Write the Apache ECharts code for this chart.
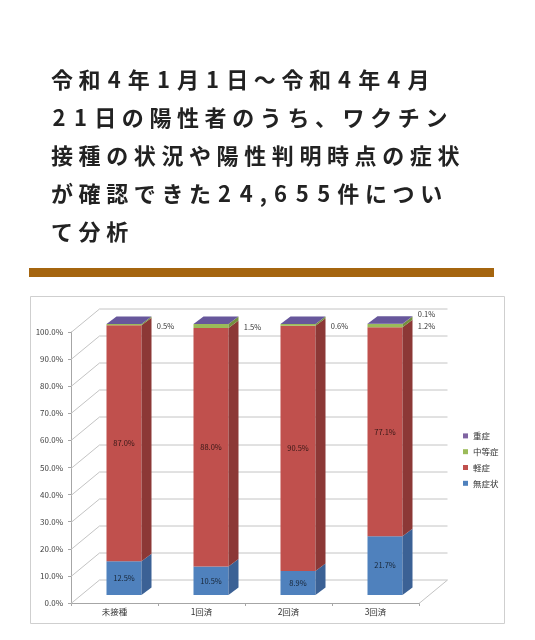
<!DOCTYPE html>
<html><head><meta charset="utf-8">
<script src="https://cdn.jsdelivr.net/npm/echarts@6.0.0/dist/echarts.min.js"></script>
<style>
html,body{margin:0;padding:0;background:#fff;}
#wrap{position:relative;width:535px;height:640px;overflow:hidden;}
#chart{position:absolute;left:0;top:0;width:535px;height:640px;}
#title{position:absolute;left:51px;top:58.5px;font-family:"Noto Sans CJK JP";font-size:22px;line-height:38.2px;letter-spacing:5.6px;font-weight:700;color:#222;white-space:nowrap;}
#title .d{padding:0 1.5px;}
</style></head>
<body>
<div id="wrap"><div id="chart"></div><div id="title"></div></div>
<script>
// ---- data ----
const titleLines = ['令和4年1月1日～令和4年4月', '21日の陽性者のうち、ワクチン', '接種の状況や陽性判明時点の症状', 'が確認できた24,655件につい', 'て分析'];
const categories = ['未接種', '1回済', '2回済', '3回済'];
const seriesNames = ['無症状', '軽症', '中等症', '重症'];
const asymptomatic = [12.5, 10.5, 8.9, 21.7];
const mild = [87.0, 88.0, 90.5, 77.1];
const moderate = [0.5, 1.5, 0.6, 1.2];
const severe = [0.0, 0.0, 0.0, 0.1];
const yTicks = [0, 10, 20, 30, 40, 50, 60, 70, 80, 90, 100];
const legendOrder = ['重症', '中等症', '軽症', '無症状'];

// ---- styles ----
const FONT = '"Noto Sans CJK JP"';
const frontColors = ['#4f81bd', '#c0504d', '#9bbb59', '#8064a2'];
const sideColors = ['#3b6195', '#8c3836', '#74903f', '#5e4a7d'];
const topColor = '#67579b';
const WALL_DX = 28.5, WALL_DY = -23.5;
const BAR_DX = 9.5, BAR_DY = -8;
const SIDE_DX = 10, SIDE_DY = -7.5;
const BAR_RATIO = 35 / 87;

document.getElementById('title').innerHTML = titleLines
  .map(l => l.replace(/[0-9]/g, d => '<span class="d">' + d + '</span>'))
  .join('<br>');

const seriesValues = [asymptomatic, mild, moderate, severe];
const bases = seriesValues.map((vals, si) =>
  vals.map((v, ci) => seriesValues.slice(0, si).reduce((s, arr) => s + arr[ci], 0)));

function fmt(v) { return v.toFixed(1) + '%'; }

function barSeries(si) {
  const last = seriesValues.length - 1;
  return {
    type: 'custom',
    name: seriesNames[si],
    z: 3 + si,
    itemStyle: { color: frontColors[si] },
    encode: { x: 0, y: [1, 2] },
    data: seriesValues[si].map((v, ci) => [ci, bases[si][ci], v]),
    renderItem: function (params, api) {
      const ci = api.value(0), base = api.value(1), val = api.value(2);
      const pb = api.coord([ci, base]);
      const pt = api.coord([ci, base + val]);
      const bw = api.size([1, 0])[0] * BAR_RATIO;
      const x0 = pb[0] + BAR_DX - bw / 2, x1 = x0 + bw;
      const yb = pb[1] + BAR_DY, yt = pt[1] + BAR_DY;
      const children = [];
      if (yb - yt > 0.01) {
        children.push({ type: 'rect', shape: { x: x0, y: yt, width: bw, height: yb - yt }, style: { fill: frontColors[si] } });
        children.push({ type: 'polygon', shape: { points: [[x1, yb], [x1 + SIDE_DX, yb + SIDE_DY], [x1 + SIDE_DX, yt + SIDE_DY], [x1, yt]] }, style: { fill: sideColors[si] } });
      }
      if (si === last) {
        children.push({ type: 'polygon', shape: { points: [[x0, yt], [x1, yt], [x1 + SIDE_DX, yt + SIDE_DY], [x0 + SIDE_DX, yt + SIDE_DY]] }, style: { fill: topColor } });
      }
      let lx, ly, fill = '#333';
      if (si <= 1) { lx = (x0 + x1) / 2; ly = (yb + yt) / 2; fill = 'rgba(0,0,0,0.72)'; }
      else if (si === 2) { lx = x1 + 24; ly = (yb + yt) / 2 + 1; }
      else { lx = x1 + 24; ly = yt - 10; }
      if (val > 0) {
        children.push({ type: 'text', z2: 10, style: { text: fmt(val), x: lx, y: ly, fill: fill, fontSize: 7.5, fontFamily: FONT, align: 'center', verticalAlign: 'middle' } });
      }
      return { type: 'group', children: children };
    }
  };
}

const wallSeries = {
  type: 'custom',
  name: 'walls',
  silent: true,
  z: 1,
  encode: { x: 0, y: 1 },
  data: yTicks.map(v => [0, v]),
  renderItem: function (params, api) {
    const v = api.value(1);
    const p = api.coord([0, v]);
    const cs = params.coordSys;
    const L = cs.x, R = cs.x + cs.width, y = Math.round(p[1]) + 0.5;
    const st = { stroke: '#c4c4c4', lineWidth: 1 };
    const children = [
      { type: 'line', shape: { x1: L, y1: y, x2: L + WALL_DX, y2: y + WALL_DY }, style: st },
      { type: 'line', shape: { x1: L + WALL_DX, y1: y + WALL_DY, x2: R + WALL_DX, y2: y + WALL_DY }, style: st }
    ];
    if (v === yTicks[0]) {
      children.push({ type: 'line', shape: { x1: R, y1: y, x2: R + WALL_DX, y2: y + WALL_DY }, style: st });
    }
    return { type: 'group', children: children };
  }
};

const chart = echarts.init(document.getElementById('chart'), null, { renderer: 'canvas' });
chart.setOption({
  animation: false,
  backgroundColor: 'transparent',
  graphic: [
    { type: 'rect', z: 0, shape: { x: 29, y: 268, width: 465, height: 9 }, style: { fill: '#a5650f' } },
    { type: 'rect', z: 0, shape: { x: 30.5, y: 296.5, width: 474, height: 327 }, style: { fill: '#fff', stroke: '#cfcfcf', lineWidth: 1 } }
  ],
  grid: { left: 71, right: 116, top: 332, bottom: 37, containLabel: false },
  legend: {
    orient: 'vertical', left: 463, top: 428, padding: 0,
    itemWidth: 5, itemHeight: 5, itemGap: 0, icon: 'rect',
    data: legendOrder,
    textStyle: { fontSize: 8.5, lineHeight: 15.8, color: '#333', fontFamily: FONT }
  },
  xAxis: {
    type: 'category', data: categories,
    axisLine: { lineStyle: { color: '#a6a6a6' } },
    axisTick: { show: true, length: 3, lineStyle: { color: '#a6a6a6' } },
    axisLabel: { fontSize: 8.5, color: '#333', margin: 5, fontFamily: FONT },
    splitLine: { show: false }
  },
  yAxis: {
    type: 'value', min: yTicks[0], max: yTicks[yTicks.length - 1], interval: yTicks[1] - yTicks[0],
    axisLine: { show: true, lineStyle: { color: '#a6a6a6' } },
    axisTick: { show: true, length: 3, lineStyle: { color: '#a6a6a6' } },
    axisLabel: { fontSize: 8, color: '#404040', margin: 8, fontFamily: FONT, formatter: fmt },
    splitLine: { show: false }
  },
  series: [wallSeries].concat(seriesValues.map((_, si) => barSeries(si)))
});
</script>
</body></html>
